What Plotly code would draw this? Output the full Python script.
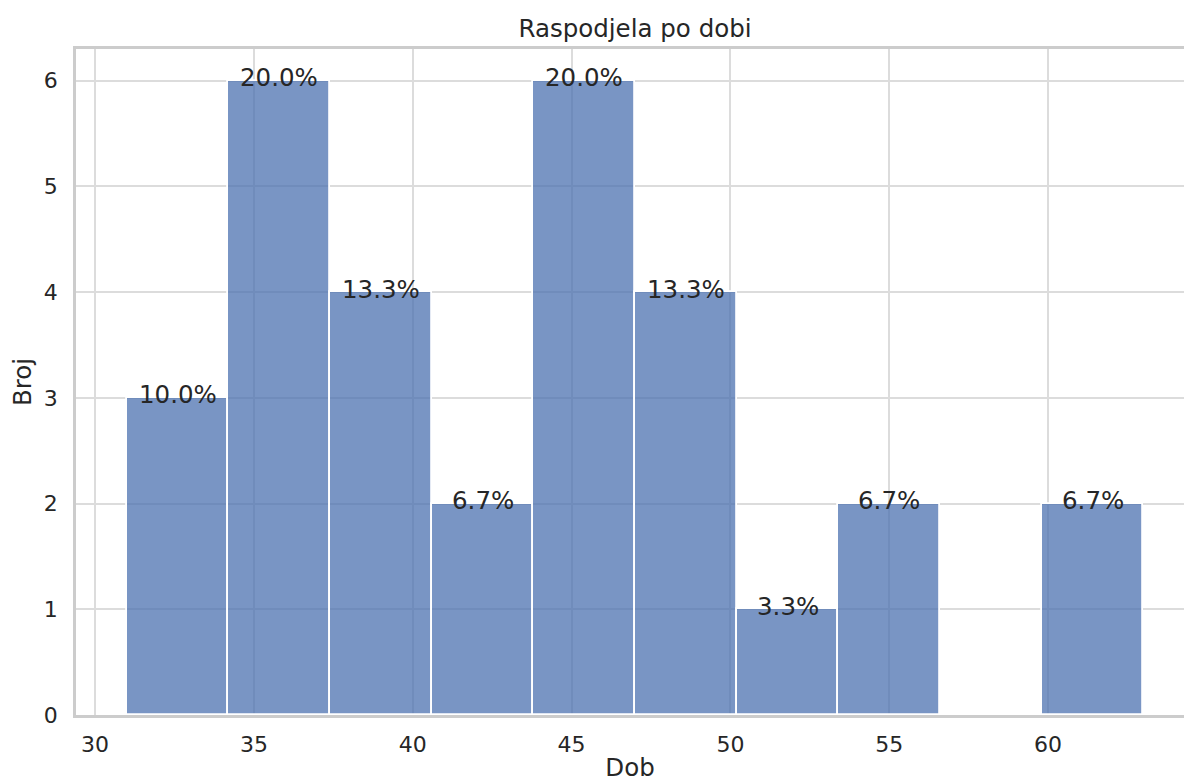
import plotly.graph_objects as go

# Data
bin_edges = [31.0, 34.2, 37.4, 40.6, 43.8, 47.0, 50.2, 53.4, 56.6, 59.8, 63.0]
counts = [3, 6, 4, 2, 6, 4, 1, 2, 0, 2]
title_text = "Raspodjela po dobi"
x_label = "Dob"
y_label = "Broj"
x_ticks = [30, 35, 40, 45, 50, 55, 60]
y_ticks = [0, 1, 2, 3, 4, 5, 6]

total = sum(counts)
centers = [(a + b) / 2 for a, b in zip(bin_edges[:-1], bin_edges[1:])]
widths = [b - a for a, b in zip(bin_edges[:-1], bin_edges[1:])]

TXT = "#262626"
FONT = "DejaVu Sans"

fig = go.Figure()
fig.add_trace(go.Bar(
    x=centers, y=counts, width=widths,
    marker=dict(color="rgba(76,114,176,0.75)", line=dict(color="white", width=1.8)),
    hoverinfo="skip",
))

annotations = []
for c, n in zip(centers, counts):
    if n > 0:
        annotations.append(dict(
            x=c, y=n, xref="x", yref="y", text=f"{n / total * 100:.1f}%",
            showarrow=False, xanchor="center", yanchor="middle", yshift=3,
            font=dict(family=FONT, size=24.5, color=TXT),
        ))

fig.update_layout(
    width=1184, height=782,
    margin=dict(l=76, r=0, t=48.5, b=67, autoexpand=False),
    paper_bgcolor="white", plot_bgcolor="white",
    showlegend=False, bargap=0,
    font=dict(family=FONT, color=TXT, size=22),
    title=dict(text=title_text, x=635 / 1184, xref="container", xanchor="center",
               y=1 - 28 / 782, yref="container", yanchor="middle",
               font=dict(family=FONT, size=24.5, color=TXT)),
    annotations=annotations,
    xaxis=dict(
        range=[29.4, 64.28], tickvals=x_ticks, ticktext=[str(t) for t in x_ticks],
        showgrid=True, gridcolor="#dcdcdc", gridwidth=1.5,
        showline=True, linecolor="#cccccc", linewidth=2.5, mirror=True,
        ticks="outside", ticklen=8, tickcolor="rgba(0,0,0,0)",
        tickfont=dict(family=FONT, size=22, color=TXT),
        title=dict(text=x_label, font=dict(family=FONT, size=24.5, color=TXT), standoff=13),
        zeroline=False, automargin=False,
    ),
    yaxis=dict(
        range=[0, 6.3], tickvals=y_ticks, ticktext=[str(t) for t in y_ticks],
        showgrid=True, gridcolor="#dcdcdc", gridwidth=1.5,
        showline=True, linecolor="#cccccc", linewidth=2.5,
        ticks="outside", ticklen=11, tickcolor="rgba(0,0,0,0)",
        tickfont=dict(family=FONT, size=22, color=TXT),
        title=dict(text=y_label, font=dict(family=FONT, size=24.5, color=TXT), standoff=6),
        zeroline=False, automargin=False,
    ),
)

fig.write_html("out.html", config={"displayModeBar": False},
               post_script="document.body.style.margin='0';")
